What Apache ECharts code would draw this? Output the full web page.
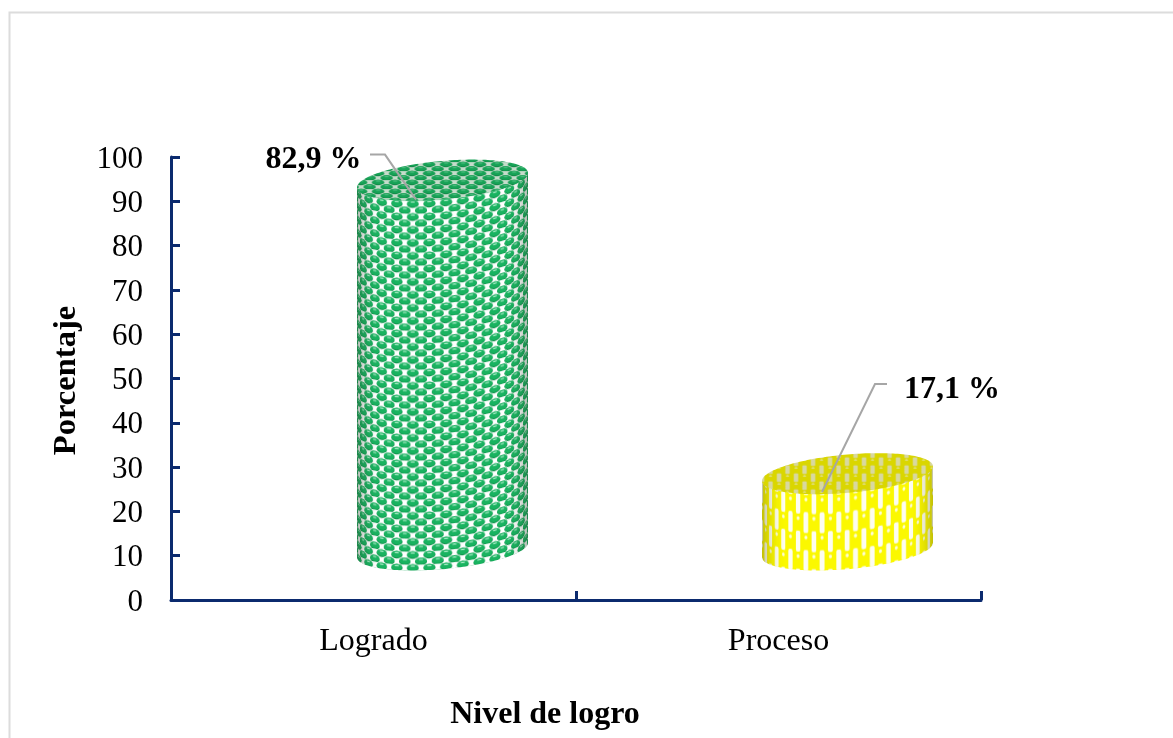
<!DOCTYPE html>
<html><head><meta charset="utf-8">
<style>html,body{margin:0;padding:0;background:#fff}#c{width:1173px;height:738px}</style>
<script src="https://cdn.jsdelivr.net/npm/echarts@6/dist/echarts.min.js"></script>
</head><body><div id="c"></div>
<script>
const categories = ['Logrado', 'Proceso'];
const values = [82.9, 17.1];
const labels = ['82,9 %', '17,1 %'];
const yTicks = { min: 0, max: 100, interval: 10 };

const SERIF = '"Liberation Serif","Times New Roman",serif';
const NAVY = '#0b2a6e';
const A = 85.5, B = 19.2, K = 0.085, DX = 69, FLOOR = 11.3, STRETCH = 1.007;

function tile(w, h, draw) {
  const c = document.createElement('canvas'); c.width = w; c.height = h;
  draw(c.getContext('2d'), w, h); return c;
}
function greenTile(bg, oval, dark, hi) {
  return tile(21, 13, (g, w, h) => {
    g.fillStyle = bg; g.fillRect(0, 0, w, h);
    const one = (x, y) => {
      g.fillStyle = dark; g.beginPath(); g.ellipse(x, y + 0.3, 7.6, 3.7, 0, 0, 7); g.fill();
      g.fillStyle = oval; g.beginPath(); g.ellipse(x, y - 0.3, 7.4, 3.3, 0, 0, 7); g.fill();
      g.fillStyle = hi; g.beginPath(); g.ellipse(x, y - 1.8, 3, 0.6, 0, 0, 7); g.fill();
    };
    [[5, 3.2], [26, 3.2], [-16, 3.2], [5, 16.2], [26, 16.2], [-16, 16.2], [15.5, 9.7], [-5.5, 9.7]].forEach(p => one(p[0], p[1]));
  });
}
function yellowTile(bg, bar, dot, barW) {
  return tile(21, 38, (g, w, h) => {
    g.fillStyle = bg; g.fillRect(0, 0, w, h);
    const one = (x, y) => {
      g.fillStyle = bar; g.beginPath(); g.roundRect(x - barW / 2, y - 10.5, barW, 21, 2); g.fill();
      g.fillStyle = dot; g.beginPath(); g.arc(x + 10.5, y - 4, 2, 0, 7); g.fill();
    };
    [[0, 9.5], [21, 9.5], [0, 47.5], [21, 47.5], [-10.5, 28.5], [10.5, 28.5], [31.5, 28.5], [10.5, -9.5]].forEach(p => one(p[0], p[1]));
  });
}
// wraps a flat tile round the cylinder, one pixel column at a time
function wrapSide(src, shade) {
  const w = 2 * A | 0, h = src.height * 8, R = A * 1.25;
  return tile(w, h, g => {
    const pat = g.createPattern(src, 'repeat');
    for (let i = 0; i < w; i++) {
      const u = Math.max(-0.999, Math.min(0.999, (i + 0.5 - A) / A));
      const sx = (0.6 * u + 0.4 * Math.asin(u)) * R;
      const dy = B * Math.sqrt(1 - u * u) - K * A * u;
      g.save(); g.beginPath(); g.rect(i, 0, 1, h); g.clip();
      g.translate(i - sx, dy); g.fillStyle = pat;
      g.fillRect(sx - 2, -dy - 2, 4, h + 4);
      g.restore();
      const e = Math.max(0, (Math.abs(u) - 0.72) / 0.28);
      if (e > 0) { g.fillStyle = 'rgba(' + shade + ',' + (e * e * 0.35) + ')'; g.fillRect(i, 0, 1, h); }
    }
  });
}
function squash(src, sx, sy) {
  return tile(Math.round(src.width * sx), Math.round(src.height * sy), (g, w, h) => g.drawImage(src, 0, 0, w, h));
}
const textures = [
  { side: wrapSide(greenTile('#ffffff', '#19b360', '#0e9049', '#b5f0cf'), '40,60,40'),
    top: squash(greenTile('#c5dccb', '#17a256', '#118545', '#6fd09a'), 0.8, 0.7) },
  { side: wrapSide(yellowTile('#fbf800', '#fdfdf0', '#fdfdd8', 6.2), '90,90,20'),
    top: squash(yellowTile('#dad600', '#d8d8a0', '#e2e290', 5.5), 0.8, 0.42) }
];

function ring(cx, cy, from, to) {
  const out = [];
  for (let d = from; d <= to; d += 2) {
    const t = d * Math.PI / 180;
    out.push([cx + A * Math.cos(t), cy + B * Math.sin(t) - K * A * Math.cos(t)]);
  }
  return out;
}
const labelLayout = [
  { text: [-81, -20.5, 'right'], size: 32, line: [[-72.5, -25.5], [-57.5, -25.5], [-26.5, 19.5]] },
  { text: [56.5, -83.5, 'left'], size: 32, line: [[39.5, -89.7], [27.5, -89.7], [-25.5, 18.3]] }
];

function renderCyl(params, api) {
  const i = api.value(0), v = api.value(1);
  const base = api.coord([i, FLOOR]);
  const cx = base[0] + DX, by = base[1];
  const ty = by - api.size([0, v])[1] * STRETCH;
  const x0 = cx - A, tex = textures[i];
  const sidePts = ring(A, by - ty, 0, 180).concat(ring(A, 0, 180, 180), ring(A, 0, 0, 0));
  const L = labelLayout[i];
  return {
    type: 'group', children: [
      { type: 'polygon', x: x0, y: ty, silent: true, shape: { points: sidePts }, style: { fill: { image: tex.side, repeat: 'repeat' } } },
      { type: 'polygon', x: x0, y: ty, silent: true, shape: { points: ring(A, 0, 0, 360) }, style: { fill: { image: tex.top, repeat: 'repeat' } } },
      { type: 'polyline', silent: true, shape: { points: L.line.map(p => [cx + p[0], ty + p[1]]) }, style: { stroke: '#a6a6a6', lineWidth: 2, fill: null } },
      { type: 'text', silent: true, x: cx + L.text[0], y: ty + L.text[1], style: { text: labels[i], font: 'bold ' + L.size + 'px ' + SERIF, fill: '#000', textAlign: L.text[2], textVerticalAlign: 'middle' } }
    ]
  };
}

const chart = echarts.init(document.getElementById('c'), null, { renderer: 'canvas' });
chart.setOption({
  animation: false,
  backgroundColor: '#fff',
  graphic: [{ type: 'rect', z: -10, silent: true, shape: { x: 9.5, y: 12.5, width: 1300, height: 900 }, style: { fill: null, stroke: '#dcdcdc', lineWidth: 2 } }],
  title: { text: 'Nivel de logro', left: 540, top: 694, textAlign: 'center', textStyle: { fontFamily: SERIF, fontWeight: 'bold', fontSize: 32, color: '#000' } },
  grid: { left: 171, top: 157, width: 810, height: 443, containLabel: false },
  xAxis: {
    type: 'category', data: categories,
    axisLine: { lineStyle: { color: NAVY, width: 3 } },
    axisTick: { show: true, inside: true, alignWithLabel: false, length: 9, lineStyle: { color: NAVY, width: 3 } },
    axisLabel: { fontFamily: SERIF, fontSize: 32, color: '#000', margin: 26 },
    splitLine: { show: false }
  },
  yAxis: {
    type: 'value', min: yTicks.min, max: yTicks.max, interval: yTicks.interval,
    name: 'Porcentaje', nameLocation: 'middle', nameRotate: 90, nameGap: 88,
    nameTextStyle: { fontFamily: SERIF, fontWeight: 'bold', fontSize: 32.6, color: '#000', padding: [0, 4, 0, 0] },
    axisLine: { show: true, lineStyle: { color: NAVY, width: 3 } },
    axisTick: { show: true, inside: true, length: 9, lineStyle: { color: NAVY, width: 3 } },
    axisLabel: { color: '#000', margin: 28, formatter: '{n|{value}}',
      rich: { n: { fontFamily: SERIF, fontSize: 31, color: '#000', padding: [5, 0, 0, 0] } } },
    splitLine: { show: false }
  },
  series: [{
    type: 'custom', clip: false, renderItem: renderCyl, silent: true,
    encode: { x: 0, y: 1 },
    data: values.map((v, i) => [i, v])
  }]
});
</script></body></html>
